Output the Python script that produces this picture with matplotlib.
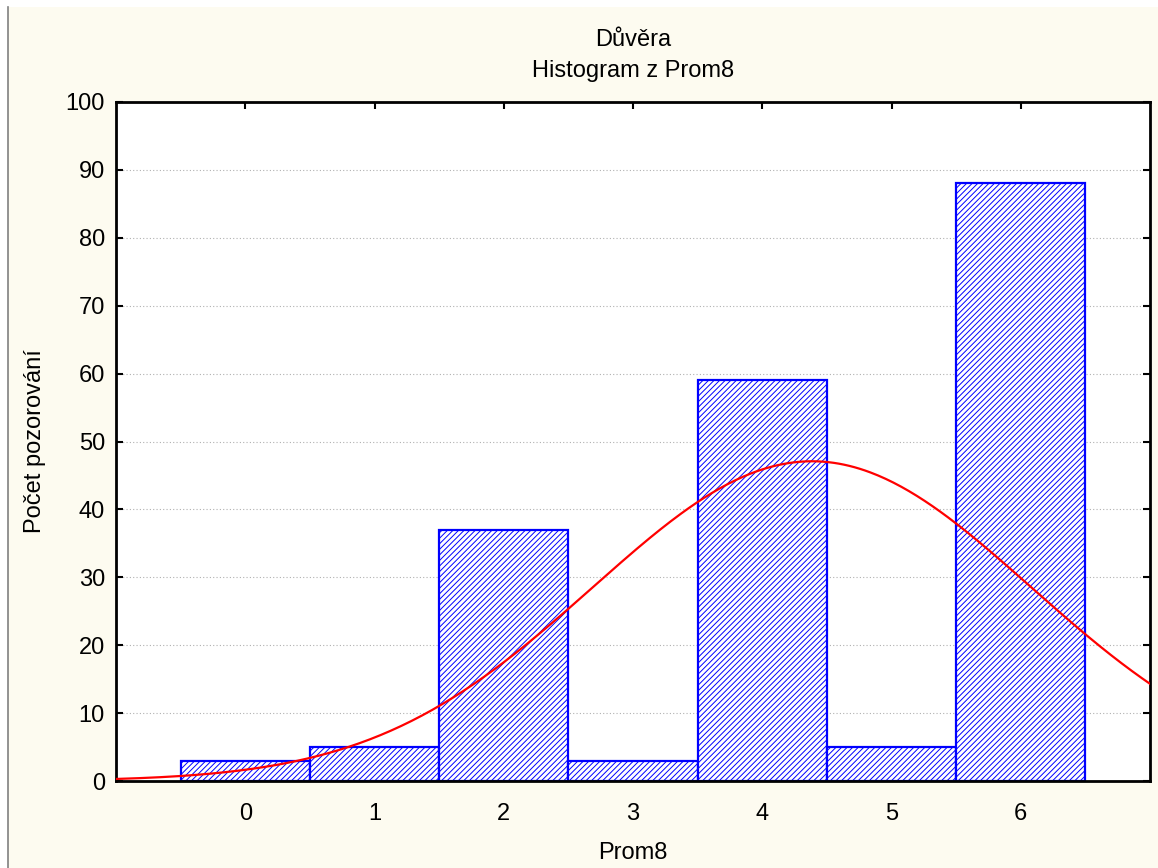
import numpy as np
import matplotlib.pyplot as plt
import matplotlib.patches as mpatches
from matplotlib.lines import Line2D

plt.rcParams['font.family'] = ['Liberation Sans', 'DejaVu Sans']
plt.rcParams['hatch.linewidth'] = 0.7

# counts per category of Prom8
categories = [0, 1, 2, 3, 4, 5, 6]
counts = [3, 5, 37, 3, 59, 5, 88]
y_ticks = [0, 10, 20, 30, 40, 50, 60, 70, 80, 90, 100]

title_lines = ["Důvěra", "Histogram z Prom8"]
x_label = "Prom8"
y_label = "Počet pozorování"

cream = '#fdfbf0'
fs = 17

fig = plt.figure(figsize=(11.58, 8.68), dpi=100)
fig.patch.set_facecolor(cream)

# white strips on top and left, gray border line of the window
fig.patches.append(mpatches.Rectangle((0, 1 - 7 / 868), 1, 7 / 868,
                                      transform=fig.transFigure,
                                      facecolor='white', edgecolor='none'))
fig.patches.append(mpatches.Rectangle((0, 0), 8 / 1158, 1,
                                      transform=fig.transFigure,
                                      facecolor='white', edgecolor='none'))
fig.lines.append(Line2D([8 / 1158, 8 / 1158], [0, 1 - 7 / 868],
                        transform=fig.transFigure, color='#808080', lw=1.2))

ax = fig.add_axes([116 / 1158, 1 - 781 / 868, (1150 - 116) / 1158, (781 - 102) / 868])
ax.set_facecolor('white')

ax.bar(categories, counts, width=1.0, facecolor='white', edgecolor='#0000ff',
       hatch='//////', linewidth=1.6, zorder=2)

# fitted normal curve, scaled to the counts
x = np.repeat(categories, counts)
mu = x.mean()
sd = x.std(ddof=1)
xs = np.linspace(-1, 7, 400)
ys = len(x) * 1.0 * np.exp(-0.5 * ((xs - mu) / sd) ** 2) / (sd * np.sqrt(2 * np.pi))
ax.plot(xs, ys, color='#ff0000', lw=1.6, zorder=3)

ax.set_xlim(-1, 7)
ax.set_ylim(0, 100)
ax.set_xticks(categories)
ax.set_yticks(y_ticks)
ax.yaxis.grid(True, linestyle=(0, (1, 2)), color='#b0b0b0', lw=0.8)
ax.set_axisbelow(True)

ax.tick_params(direction='in', length=5, width=1.5, labelsize=fs,
               top=True, right=True)
ax.tick_params(axis='x', pad=16)
ax.tick_params(axis='y', pad=8)
for s in ax.spines.values():
    s.set_linewidth(2)

ax.set_xlabel(x_label, fontsize=fs, labelpad=12)
ax.set_ylabel(y_label, fontsize=fs, labelpad=14)
ax.set_title("\n".join(title_lines), fontsize=fs, pad=18, linespacing=1.55)

fig.savefig('out.png', dpi=100, facecolor=fig.get_facecolor())
